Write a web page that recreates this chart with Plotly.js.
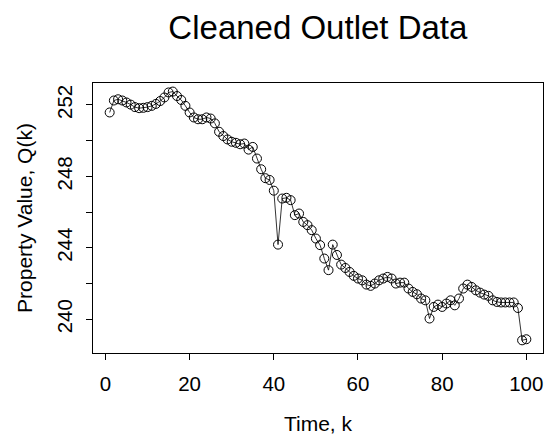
<!DOCTYPE html>
<html>
<head>
<meta charset="utf-8">
<script src="https://cdn.plot.ly/plotly-3.0.1.min.js"></script>
<style>html,body{margin:0;padding:0;background:#fff;}#chart{width:549px;height:437px;}</style>
</head>
<body>
<div id="chart"></div>
<script>
// Time index k
const timeK = [];
for (let k = 1; k <= 100; k++) timeK.push(k);

// Property value Q(k)
const propertyValue = [
  251.58, 252.25, 252.32, 252.25, 252.14, 252.02, 251.88, 251.82, 251.84, 251.88,
  251.95, 252.06, 252.22, 252.42, 252.70, 252.75, 252.50, 252.28, 251.95, 251.58,
  251.30, 251.20, 251.20, 251.30, 251.24, 250.97, 250.50, 250.26, 250.07, 249.94,
  249.88, 249.80, 249.84, 249.50, 249.65, 249.00, 248.40, 247.90, 247.80, 247.20,
  244.18, 246.76, 246.80, 246.67, 245.83, 245.92, 245.45, 245.27, 244.99, 244.52,
  244.15, 243.40, 242.75, 244.18, 243.60, 243.06, 242.87, 242.65, 242.43, 242.28,
  242.18, 241.94, 241.87, 242.00, 242.18, 242.28, 242.37, 242.28, 242.00, 242.05,
  242.05, 241.72, 241.53, 241.40, 241.16, 241.06, 240.04, 240.69, 240.82, 240.69,
  240.88, 241.06, 240.78, 241.16, 241.72, 241.94, 241.81, 241.62, 241.49, 241.38,
  241.31, 241.06, 240.97, 240.94, 240.94, 240.94, 240.94, 240.63, 238.82, 238.88
];

const xTickVals = [0, 20, 40, 60, 80, 100];
const xTickText = ["0", "20", "40", "60", "80", "100"];
const yTickVals = [240, 242, 244, 246, 248, 250, 252];
const yTickText = ["240", "", "244", "", "248", "", "252"];

const font = "Liberation Sans, Arial, sans-serif";

const trace = {
  x: timeK,
  y: propertyValue,
  type: "scatter",
  mode: "lines+markers",
  line: {color: "#000", width: 0.8},
  marker: {symbol: "circle-open", size: 9, color: "#000", line: {color: "#000", width: 1}},
  hoverinfo: "x+y"
};

const layout = {
  width: 549,
  height: 437,
  paper_bgcolor: "#fff",
  plot_bgcolor: "#fff",
  showlegend: false,
  margin: {l: 93, r: 6, t: 83, b: 84, pad: 0},
  font: {family: font, color: "#000", size: 20},
  title: {
    text: "Cleaned Outlet Data",
    font: {family: font, size: 33, color: "#000"},
    x: 0.579, xanchor: "center",
    y: 0.938, yanchor: "middle"
  },
  xaxis: {
    range: [-2.96, 103.96],
    tickvals: xTickVals,
    ticktext: xTickText,
    ticks: "outside",
    ticklen: 6,
    tickwidth: 1,
    tickcolor: "#000",
    showline: true,
    linecolor: "#000",
    linewidth: 1,
    mirror: true,
    showgrid: false,
    zeroline: false,
    tickfont: {family: font, size: 20.5, color: "#000"},
    ticklabelstandoff: 6,
    automargin: false,
    title: {text: "Time, k", font: {family: font, size: 21, color: "#000"}, standoff: 22}
  },
  yaxis: {
    range: [238.11, 253.23],
    tickvals: yTickVals,
    ticktext: yTickText,
    tickangle: -90,
    ticks: "outside",
    ticklen: 6,
    tickwidth: 1,
    tickcolor: "#000",
    showline: true,
    linecolor: "#000",
    linewidth: 1,
    mirror: true,
    showgrid: false,
    zeroline: false,
    tickfont: {family: font, size: 20.5, color: "#000"},
    ticklabelstandoff: 6,
    automargin: false,
    title: {text: "Property Value, Q(k)", font: {family: font, size: 21, color: "#000"}, standoff: 14}
  }
};

Plotly.newPlot("chart", [trace], layout, {staticPlot: true, displayModeBar: false});
</script>
</body>
</html>
